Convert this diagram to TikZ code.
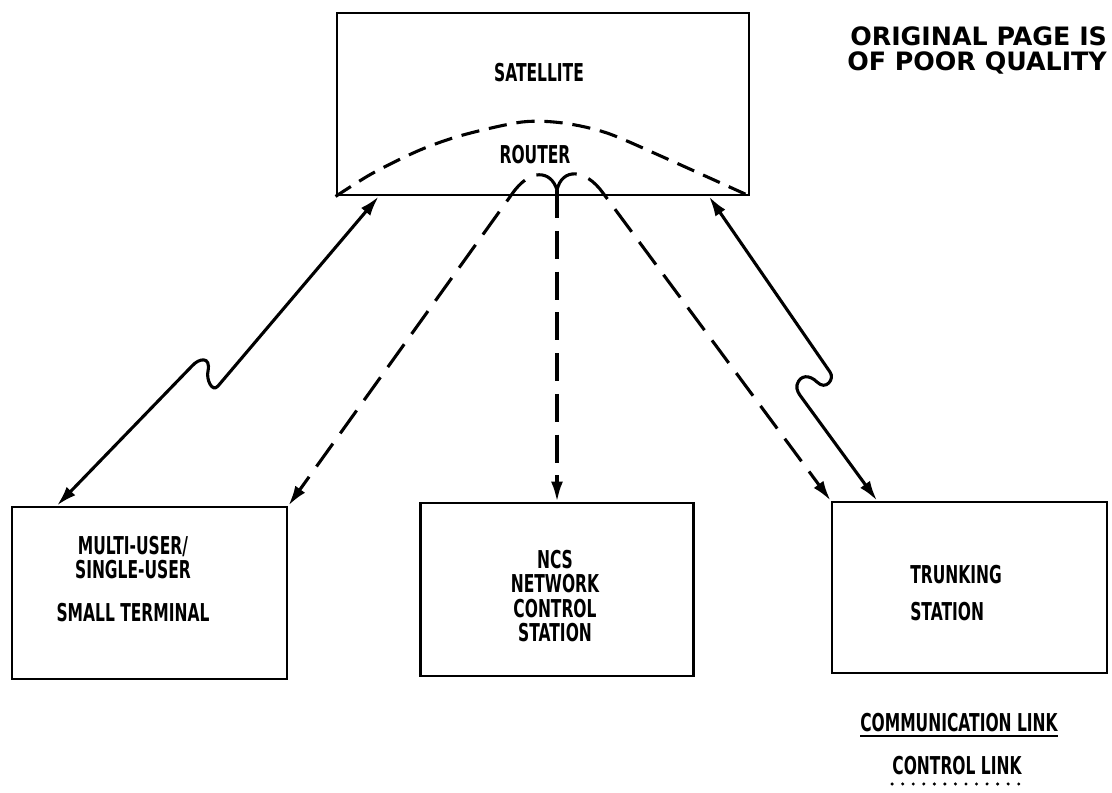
\documentclass[tikz,border=0pt]{standalone}
\usepackage{fontspec}
\usepackage{tikz}
\usetikzlibrary{arrows.meta, calc, positioning}

\newfontfamily\letterfont{DejaVu Sans}[FakeStretch=0.63]
\newfontfamily\stampfont{DejaVu Sans}

\begin{document}
\begin{tikzpicture}[
    x=0.025cm, y=-0.025cm,
    box/.style={rectangle, draw=black, line width=2pt, inner sep=0pt},
    lettering/.style={font=\letterfont\bfseries\fontsize{17.5}{17.5}\selectfont, inner sep=0pt},
    stamp/.style={font=\stampfont\bfseries\fontsize{18}{20}\selectfont, inner sep=0pt},
    tip/.tip={Latex[length=5mm, width=3mm]},
    comm/.style={line width=2.2pt, tip-tip},
    dashline/.style={line width=2.2pt, dash pattern=on 20pt off 9pt},
    ctrl/.style={dashline, -tip},
    arc/.style={line width=2.2pt, dash pattern=on 13pt off 7pt},
]

% ---- Frame ----
\path[use as bounding box] (0,0) rectangle (1112,792);

% ---- Boxes ----
\node[box, minimum width=10.3cm, minimum height=4.55cm] (sat) at (543,104) {};
\node[box, minimum width=6.875cm, minimum height=4.3cm] (term) at (149.5,593) {};
\node[box, minimum width=6.825cm, minimum height=4.325cm] (ncs) at (557,589.5) {};
\node[box, minimum width=6.875cm, minimum height=4.275cm] (trunk) at (969.5,587.5) {};

% ---- Labels ----
\node[lettering] (satlbl) at (539,73) {SATELLITE};
\node[lettering] (routerlbl) at (535,155) {ROUTER};
\node[lettering, align=center] (termlbl) at (133,579)
    {MULTI-USER/\\SINGLE-USER\\[0.45cm]SMALL TERMINAL};
\node[lettering, align=center] (ncslbl) at (555,596)
    {NCS\\NETWORK\\CONTROL\\STATION};
\node[lettering, align=left, anchor=west] (trunklbl) at (910,593)
    {TRUNKING\\[0.31cm]STATION};

% ---- Router arc ----
\draw[arc] plot[smooth] coordinates {(sat.south west) (373,173) (420,150) (463,135)
    (522,122) (563,123) (607,133) (663,157) (sat.south east)};

% ---- Communication links ----
\draw[comm] ($(term.north west)!0.167!(term.north east)$) -- (192,366)
    .. controls (199,358) and (211,356) .. (208,371)
    .. controls (206,379) and (212,393) .. (218,386)
    -- ($(sat.south west)!0.104!(sat.south east)$);
\draw[comm] ($(sat.south west)!0.9!(sat.south east)$) -- (830,372)
    .. controls (835,379) and (826,391) .. (817,382)
    .. controls (810,375) and (800,374) .. (797,385)
    .. controls (796,390) and (799,394) .. (802,398)
    -- ($(trunk.north west)!0.167!(trunk.north east)$);

% ---- Control links ----
\coordinate (hub) at (557,190);
\draw[ctrl] (hub) .. controls (551,170) and (530,168) .. (512,194) -- (term.north east);
\draw[ctrl] (hub) -- (ncs.north);
\draw[ctrl] (hub) .. controls (562,168) and (585,168) .. (603,193) -- (trunk.north west);

% ---- Legend ----
\node[lettering] (commlbl) at (959,723) {COMMUNICATION LINK};
\draw[line width=1.8pt] ([yshift=-3pt]commlbl.base west) -- ([yshift=-3pt]commlbl.base east);
\node[lettering] (ctrllbl) at (957,766) {CONTROL LINK};
\draw[line width=2.4pt, line cap=round, dash pattern=on 0pt off 7.5pt]
    ([yshift=-6.4pt]ctrllbl.base west) -- ([yshift=-6.4pt]ctrllbl.base east);

% ---- Stamp ----
\node[stamp, anchor=base west] (stamp1) at (850,45) {ORIGINAL PAGE IS};
\node[stamp, anchor=base west] (stamp2) at (847,70) {OF POOR QUALITY};

\end{tikzpicture}
\end{document}
